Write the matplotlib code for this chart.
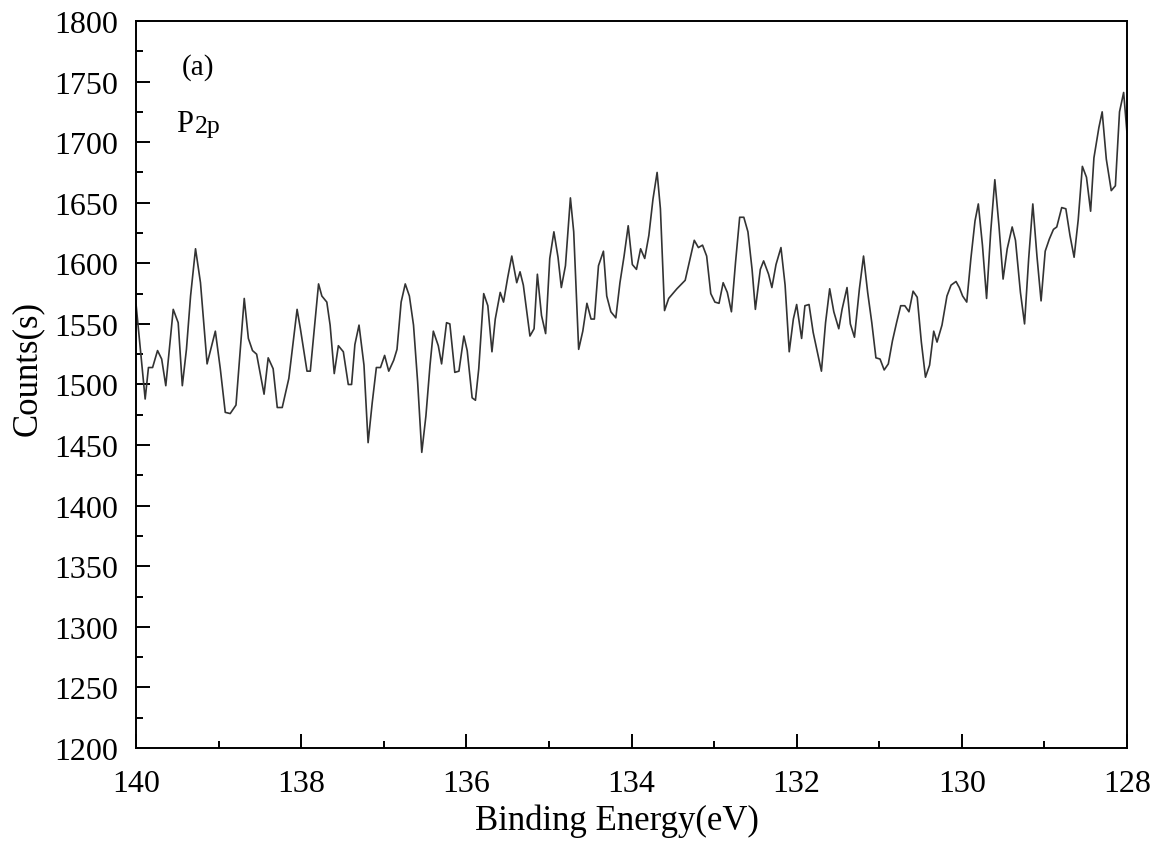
import numpy as np
import matplotlib
matplotlib.use('Agg')
import matplotlib.pyplot as plt

plt.rcParams['font.family'] = ['Liberation Serif', 'DejaVu Serif']

# binding energy (eV) and counts
energy = [
    140.00, 139.89, 139.85, 139.80, 139.74, 139.69, 139.64, 139.55, 139.49, 139.44,
    139.39, 139.34, 139.28, 139.22, 139.14, 139.04, 138.98, 138.92, 138.86, 138.79,
    138.69, 138.64, 138.59, 138.54, 138.45, 138.40, 138.34, 138.29, 138.23, 138.15,
    138.05, 138.01, 137.93, 137.89, 137.79, 137.75, 137.69, 137.65, 137.60, 137.55,
    137.49, 137.43, 137.39, 137.35, 137.30, 137.24, 137.19, 137.14, 137.09, 137.04,
    136.99, 136.94, 136.88, 136.84, 136.79, 136.74, 136.69, 136.64, 136.59, 136.54,
    136.49, 136.44, 136.40, 136.34, 136.30, 136.24, 136.20, 136.14, 136.09, 136.03,
    135.99, 135.93, 135.89, 135.85, 135.79, 135.74, 135.69, 135.65, 135.59, 135.55,
    135.50, 135.45, 135.39, 135.35, 135.31, 135.23, 135.18, 135.14, 135.09, 135.04,
    134.99, 134.94, 134.89, 134.85, 134.80, 134.74, 134.70, 134.64, 134.59, 134.54,
    134.49, 134.45, 134.40, 134.34, 134.30, 134.25, 134.19, 134.14, 134.09, 134.04,
    133.99, 133.94, 133.89, 133.84, 133.79, 133.74, 133.69, 133.65, 133.60, 133.55,
    133.45, 133.35, 133.29, 133.24, 133.19, 133.14, 133.09, 133.04, 132.99, 132.94,
    132.89, 132.84, 132.79, 132.74, 132.69, 132.64, 132.59, 132.54, 132.50, 132.44,
    132.40, 132.34, 132.30, 132.25, 132.19, 132.14, 132.09, 132.04, 132.00, 131.94,
    131.90, 131.85, 131.80, 131.75, 131.70, 131.65, 131.60, 131.55, 131.49, 131.45,
    131.39, 131.35, 131.30, 131.24, 131.19, 131.14, 131.09, 131.04, 130.99, 130.94,
    130.89, 130.84, 130.79, 130.74, 130.69, 130.64, 130.59, 130.54, 130.49, 130.44,
    130.39, 130.34, 130.30, 130.24, 130.18, 130.13, 130.07, 130.03, 129.99, 129.94,
    129.89, 129.84, 129.80, 129.75, 129.70, 129.65, 129.60, 129.55, 129.50, 129.45,
    129.39, 129.35, 129.29, 129.24, 129.19, 129.14, 129.09, 129.04, 128.99, 128.94,
    128.89, 128.85, 128.79, 128.74, 128.69, 128.64, 128.59, 128.54, 128.49, 128.44,
    128.40, 128.34, 128.30, 128.25, 128.19, 128.14, 128.09, 128.04, 128.00,
]
counts = [
    1566, 1488, 1514, 1514, 1528, 1521, 1499, 1562, 1551, 1499,
    1529, 1573, 1612, 1584, 1517, 1544, 1513, 1477, 1476, 1483,
    1571, 1538, 1528, 1525, 1492, 1522, 1513, 1481, 1481, 1505,
    1562, 1546, 1511, 1511, 1583, 1573, 1568, 1549, 1509, 1532,
    1527, 1500, 1500, 1533, 1549, 1516, 1452, 1485, 1514, 1514,
    1524, 1511, 1520, 1529, 1568, 1583, 1573, 1549, 1502, 1444,
    1474, 1516, 1544, 1532, 1517, 1551, 1550, 1510, 1511, 1540,
    1528, 1489, 1487, 1513, 1575, 1565, 1527, 1554, 1576, 1568,
    1588, 1606, 1584, 1593, 1582, 1540, 1546, 1591, 1557, 1542,
    1604, 1626, 1605, 1580, 1598, 1654, 1626, 1529, 1544, 1567,
    1554, 1554, 1598, 1610, 1573, 1560, 1555, 1584, 1606, 1631,
    1599, 1595, 1612, 1604, 1623, 1653, 1675, 1645, 1561, 1571,
    1579, 1586, 1604, 1619, 1613, 1615, 1606, 1575, 1568, 1567,
    1584, 1576, 1560, 1601, 1638, 1638, 1626, 1595, 1562, 1595,
    1602, 1591, 1580, 1599, 1613, 1582, 1527, 1554, 1566, 1538,
    1565, 1566, 1543, 1527, 1511, 1551, 1579, 1560, 1546, 1562,
    1580, 1550, 1539, 1579, 1606, 1576, 1551, 1522, 1521, 1512,
    1517, 1536, 1551, 1565, 1565, 1560, 1577, 1572, 1535, 1506,
    1516, 1544, 1535, 1549, 1573, 1582, 1585, 1580, 1573, 1568,
    1604, 1635, 1649, 1615, 1571, 1626, 1669, 1631, 1587, 1612,
    1630, 1619, 1576, 1550, 1604, 1649, 1606, 1569, 1610, 1620,
    1628, 1630, 1646, 1645, 1623, 1605, 1636, 1680, 1671, 1643,
    1687, 1712, 1725, 1686, 1660, 1664, 1725, 1741, 1708,
]

x_ticks = [140, 138, 136, 134, 132, 130, 128]
y_ticks = list(range(1200, 1801, 50))

fig = plt.figure(figsize=(11.63, 8.45), dpi=100)
ax = fig.add_axes([0.117, 0.1136, 0.852, 0.8604])

ax.plot(energy, counts, color='#333333', lw=1.2)

ax.set_xlim(140, 128)
ax.set_ylim(1200, 1800)
ax.set_xticks(x_ticks)
ax.set_xticks(np.arange(139, 128, -2), minor=True)
ax.set_yticks(y_ticks)
ax.set_yticks(np.arange(1225, 1800, 50), minor=True)

for s in ax.spines.values():
    s.set_linewidth(1.4)
ax.tick_params(which='both', direction='in', width=1.4, labelsize=23)
ax.tick_params(axis='x', which='major', length=10, pad=15)
ax.tick_params(axis='y', which='major', length=10, pad=13)
ax.tick_params(which='minor', length=5)

ax.set_xlabel('Binding Energy(eV)', fontsize=25)
ax.set_ylabel('Counts(s)', fontsize=25)
ax.xaxis.set_label_coords(0.485, -0.076)
ax.yaxis.set_label_coords(-0.093, 0.524)

ax.text(0.0464, 0.937, '(a)', transform=ax.transAxes, fontsize=21, va='center', ha='left')
ax.text(0.0404, 0.849, 'P', transform=ax.transAxes, fontsize=22, va='baseline', ha='left')
ax.text(0.0590, 0.847, '2p', transform=ax.transAxes, fontsize=18.5, va='baseline', ha='left')

fig.savefig('out.png', dpi=100)
